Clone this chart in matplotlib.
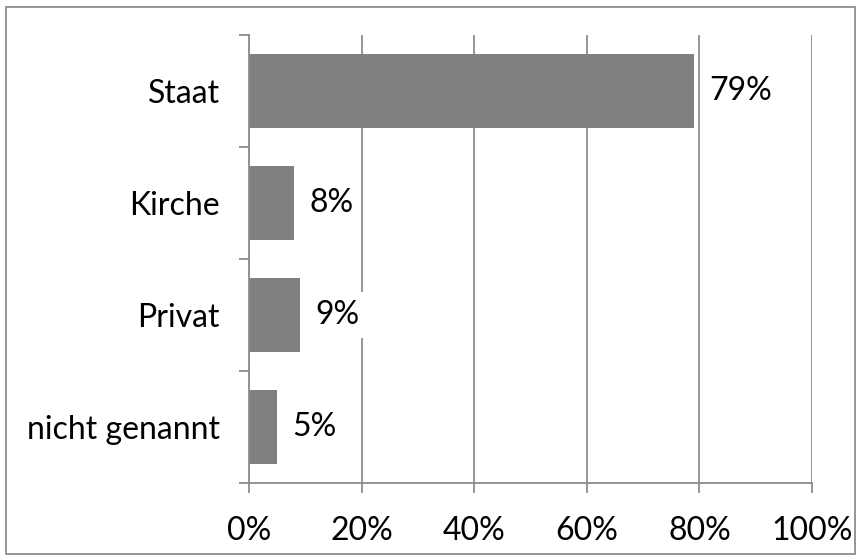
import matplotlib.pyplot as plt
from matplotlib.patches import Rectangle

plt.rcParams['font.family'] = ['Lato', 'DejaVu Sans']

kategorien = ["Staat", "Kirche", "Privat", "nicht genannt"]
anteile = [79, 8, 9, 5]
xticks = [0, 20, 40, 60, 80, 100]
xlabels = ["0%", "20%", "40%", "60%", "80%", "100%"]

grau = "#808080"
linie = "#8c8c8c"
fs = 23

fig = plt.figure(figsize=(8.66, 5.59), dpi=100)
ax = fig.add_axes([249/866, (559-483)/559, (812-249)/866, 448/559])

# Rahmen um das ganze Diagramm
fig.patches.append(Rectangle((6/866, 5/559), 849/866, 547/559, transform=fig.transFigure,
                             fill=False, edgecolor=linie, linewidth=1.3))

pos = [3, 2, 1, 0]
ax.barh(pos, anteile, height=0.665, color=grau, zorder=2)

for p, v in zip(pos, anteile):
    ax.annotate(f"{v}%", (v, p), xytext=(11, 0), textcoords="offset points",
                ha="left", va="center", fontsize=fs, zorder=3,
                bbox=dict(boxstyle="square,pad=0.25", fc="white", ec="none"))

ax.set_xlim(0, 100)
ax.set_ylim(-0.5, 3.5)
ax.set_xticks(xticks)
ax.set_xticklabels(xlabels, fontsize=fs)
ax.xaxis.grid(True, color=linie, linewidth=1.3, zorder=0)

ax.set_yticks([-0.5, 0.5, 1.5, 2.5, 3.5])
ax.set_yticklabels([])
ax.set_yticks(pos, minor=True)
ax.set_yticklabels(kategorien, minor=True, fontsize=fs)
ax.tick_params(axis="y", which="minor", length=0, pad=21)
ax.tick_params(axis="y", which="major", length=7.5, width=1.3, color=linie)
ax.tick_params(axis="x", length=7.5, width=1.3, color=linie, pad=16)

for s in ["top", "right"]:
    ax.spines[s].set_visible(False)
for s in ["left", "bottom"]:
    ax.spines[s].set_color(linie)
    ax.spines[s].set_linewidth(1.3)

fig.savefig("out.png", dpi=100)
